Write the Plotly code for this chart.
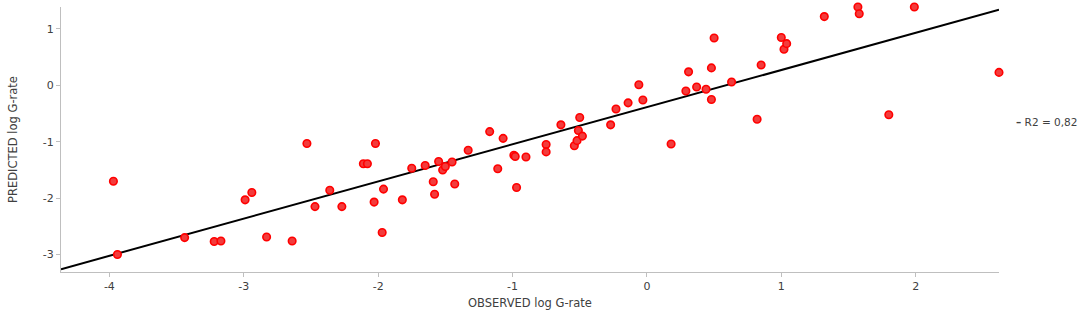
import plotly.graph_objects as go

# Observed vs predicted log G-rate
observed = [
    -4.36, -3.97, -3.94, -3.44, -3.22, -3.17, -2.99, -2.94, -2.83, -2.64,
    -2.53, -2.47, -2.36, -2.27, -2.11, -2.08, -2.03, -2.02, -1.97, -1.96,
    -1.82, -1.75, -1.65, -1.59, -1.58, -1.55, -1.52, -1.50, -1.45, -1.43,
    -1.33, -1.17, -1.11, -1.07, -0.99, -0.98, -0.97, -0.90, -0.75, -0.75,
    -0.64, -0.54, -0.52, -0.51, -0.50, -0.48, -0.27, -0.23, -0.14, -0.06,
    -0.03, 0.18, 0.29, 0.31, 0.37, 0.44, 0.48, 0.48, 0.50, 0.63,
    0.82, 0.85, 1.00, 1.02, 1.04, 1.32, 1.57, 1.58, 1.80, 1.99, 2.62,
]
predicted = [
    -3.32, -1.70, -3.00, -2.70, -2.77, -2.76, -2.03, -1.90, -2.69, -2.76,
    -1.03, -2.15, -1.86, -2.15, -1.39, -1.39, -2.07, -1.03, -2.61, -1.84,
    -2.03, -1.47, -1.42, -1.71, -1.93, -1.35, -1.50, -1.44, -1.36, -1.75,
    -1.15, -0.82, -1.48, -0.94, -1.24, -1.26, -1.81, -1.27, -1.05, -1.18,
    -0.70, -1.07, -0.98, -0.80, -0.57, -0.90, -0.70, -0.42, -0.31, 0.01,
    -0.26, -1.04, -0.10, 0.24, -0.03, -0.07, 0.31, -0.25, 0.84, 0.06,
    -0.60, 0.36, 0.85, 0.64, 0.74, 1.22, 1.39, 1.27, -0.52, 1.39, 0.23,
]

# Linear trend line end points
trend_x = [-4.36, 2.62]
trend_y = [-3.26, 1.34]
trend_label = "R2 = 0,82"

x_ticks = [-4, -3, -2, -1, 0, 1, 2]
x_tick_labels = ["-4", "-3", "-2", "-1", "0", "1", "2"]
y_ticks = [-3, -2, -1, 0, 1]
y_tick_labels = ["-3", "-2", "-1", "0", "1"]

font = "DejaVu Sans"
axis_color = "#bfbfbf"
text_color = "#404040"

fig = go.Figure()
fig.add_trace(go.Scatter(
    x=trend_x, y=trend_y, mode="lines",
    line=dict(color="black", width=2),
    name=trend_label, showlegend=False, cliponaxis=False,
))
fig.add_trace(go.Scatter(
    x=observed, y=predicted, mode="markers",
    marker=dict(size=7.5, color="#f23c3c", line=dict(color="#ff0000", width=1.6)),
    showlegend=False, cliponaxis=False,
))

fig.add_annotation(
    xref="paper", yref="paper", x=1.016, y=0.565, xanchor="left", yanchor="middle",
    text="<b>–</b> " + trend_label, showarrow=False,
    font=dict(family=font, size=10.5, color=text_color),
)

fig.update_layout(
    width=1084, height=317,
    margin=dict(l=61, r=85, t=7, b=45),
    paper_bgcolor="white", plot_bgcolor="white",
    font=dict(family=font, size=11, color=text_color),
)
fig.update_xaxes(
    range=[-4.36, 2.62], tickvals=x_ticks, ticktext=x_tick_labels,
    showgrid=False, zeroline=False,
    showline=True, linecolor=axis_color, linewidth=1,
    ticks="outside", ticklen=4, tickcolor=axis_color,
    title=dict(text="OBSERVED log G-rate", font=dict(size=11.5), standoff=6),
)
fig.update_yaxes(
    range=[-3.31, 1.39], tickvals=y_ticks, ticktext=y_tick_labels,
    showgrid=False, zeroline=False,
    showline=True, linecolor=axis_color, linewidth=1,
    ticks="outside", ticklen=4, tickcolor=axis_color,
    title=dict(text="PREDICTED log G-rate", font=dict(size=11.5), standoff=22),
)

fig.write_html(
    "out.html",
    config={"displayModeBar": False},
    post_script="document.body.style.margin='0px';",
)
